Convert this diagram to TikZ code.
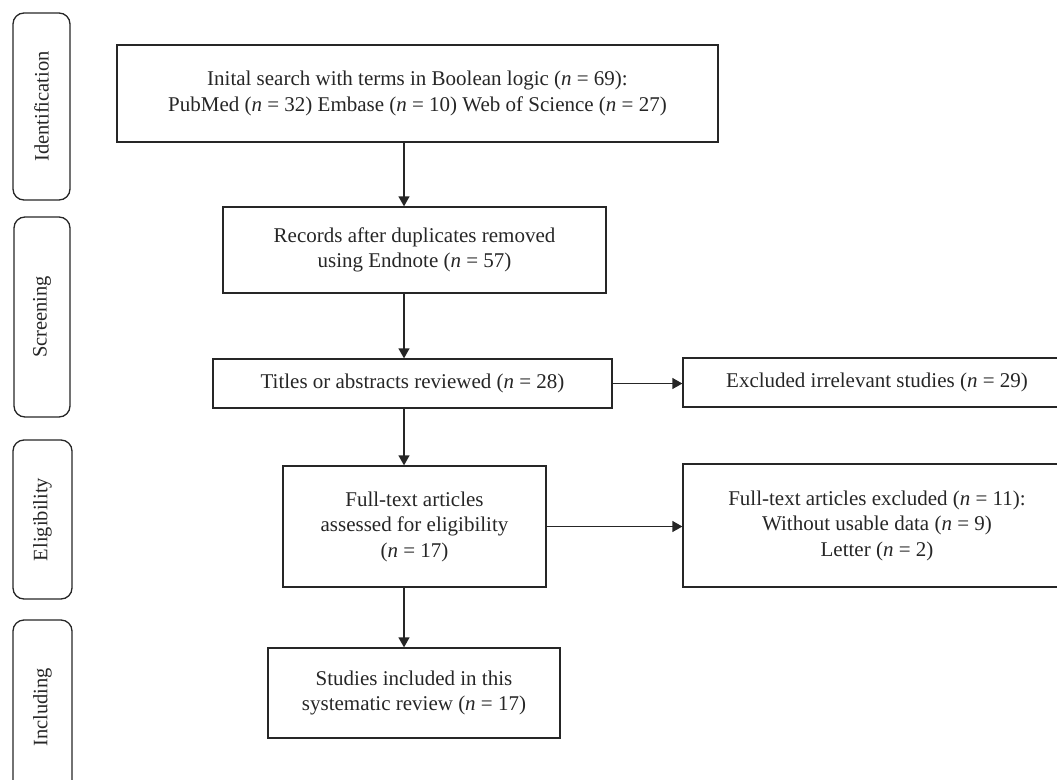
\documentclass[tikz,border=0pt]{standalone}
\usepackage{fontspec}
\setmainfont{Liberation Serif}
\usetikzlibrary{arrows.meta}

\begin{document}
\begin{tikzpicture}[x=1pt, y=-1pt,
	box/.style={draw=black!85, line width=1.3pt, inner sep=0pt, align=center, text=black!85, font=\fontsize{21}{25.5}\selectfont},
	stage/.style={draw=black!85, line width=1.3pt, rounded corners=11pt, inner sep=0pt, rotate=90, text=black!85, font=\fontsize{20.5}{24}\selectfont},
	arr/.style={-{Triangle[length=10pt,width=11pt]}, draw=black!85, line width=1.3pt}]
	\useasboundingbox (0,0) rectangle (1057,779);
	\clip (0,0) rectangle (1057,779);
	\node[stage, minimum width=187pt, minimum height=57pt] (id) at (41.5,106.5) {Identification};
	\node[stage, minimum width=200pt, minimum height=56pt] (scr) at (42,317) {Screening};
	\node[stage, minimum width=159pt, minimum height=59pt] (elig) at (42.5,519.5) {Eligibility};
	\node[stage, minimum width=175pt, minimum height=59pt] (incl) at (42.5,707.5) {Including};
	\node[box, minimum width=601pt, minimum height=97pt] (b1) at (417.5,93.5) {Inital search with terms in Boolean logic (\textit{n} = 69):\\PubMed (\textit{n} = 32) Embase (\textit{n} = 10) Web of Science (\textit{n} = 27)};
	\node[box, minimum width=383pt, minimum height=86pt] (b2) at (414.5,250) {Records after duplicates removed\\using Endnote (\textit{n} = 57)};
	\node[box, minimum width=399pt, minimum height=49pt] (b3) at (412.5,383.5) {Titles or abstracts reviewed (\textit{n} = 28)};
	\node[box, minimum width=263pt, minimum height=121pt] (b4) at (414.5,526.5) {Full-text articles\\assessed for eligibility\\(\textit{n} = 17)};
	\node[box, minimum width=292pt, minimum height=90pt] (b5) at (414,693) {Studies included in this\\systematic review (\textit{n} = 17)};
	\node[box, minimum width=388pt, minimum height=49pt] (ex1) at (877,382.5) {Excluded irrelevant studies (\textit{n} = 29)};
	\node[box, minimum width=388pt, minimum height=123pt] (ex2) at (877,525.5) {Full-text articles excluded (\textit{n} = 11):\\Without usable data (\textit{n} = 9)\\Letter (\textit{n} = 2)};
	\coordinate (spine) at (404,0);
	\draw [arr] (b1.south -| spine) -- (b2.north -| spine);
	\draw [arr] (b2.south -| spine) -- (b3.north -| spine);
	\draw [arr] (b3.south -| spine) -- (b4.north -| spine);
	\draw [arr] (b4.south -| spine) -- (b5.north -| spine);
	\draw [arr] (b3.east) -- (b3.east -| ex1.west);
	\draw [arr] (b4.east) -- (b4.east -| ex2.west);
\end{tikzpicture}
\end{document}
